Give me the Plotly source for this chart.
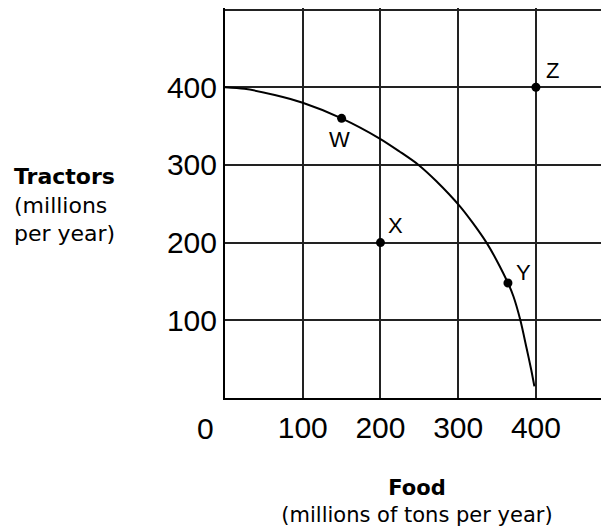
import plotly.graph_objects as go

# PPF curve (Food, Tractors)
curve_food = [0, 25, 64, 100, 150, 199, 225, 249, 272, 302, 319, 337, 349, 364, 371, 380, 388, 394, 398]
curve_tractors = [400, 398, 390, 380, 360, 334, 317, 300, 279, 247, 225, 199, 178, 148, 131, 100, 64, 36, 15]

# Labelled points
pt_names = ["W", "X", "Y", "Z"]
pt_food = [150, 200, 364, 400]
pt_tractors = [360, 200, 148, 400]

x_ticks = [100, 200, 300, 400]
x_ticktext = ["100", "200", "300", "400"]
y_ticks = [100, 200, 300, 400, 500]
y_ticktext = ["100", "200", "300", "400", ""]

NUM_FONT = "Liberation Sans, Arial, sans-serif"
TXT_FONT = "DejaVu Sans, Verdana, sans-serif"

fig = go.Figure()
fig.add_trace(go.Scatter(x=curve_food, y=curve_tractors, mode="lines",
                         line=dict(color="black", width=2, shape="spline", smoothing=0.8),
                         hoverinfo="skip"))
fig.add_trace(go.Scatter(x=pt_food, y=pt_tractors, mode="markers",
                         marker=dict(color="black", size=9), hoverinfo="skip"))

offsets = {"W": (-2, -21), "X": (15, 17), "Y": (16, 11), "Z": (17, 17)}
for n, xv, yv in zip(pt_names, pt_food, pt_tractors):
    dx, dy = offsets[n]
    fig.add_annotation(x=xv, y=yv, xref="x", yref="y", text=n, showarrow=False,
                       xshift=dx, yshift=dy,
                       font=dict(family=NUM_FONT, size=22, color="black"))

fig.add_annotation(x=0, y=0, xref="x", yref="y", text="0", showarrow=False,
                   xshift=-20, yshift=-30,
                   font=dict(family=NUM_FONT, size=30, color="black"))

# Y-axis title as a left-aligned text block
fig.add_annotation(xref="paper", yref="paper", x=-213/384, y=(390 - 154) / 390,
                   xanchor="left", yanchor="top", align="left", showarrow=False,
                   text="<b>Tractors</b><br>(millions<br>per year)",
                   font=dict(family=TXT_FONT, size=22, color="black"))

fig.update_layout(
    width=601, height=523,
    margin=dict(l=217, r=0, t=0, b=133),
    paper_bgcolor="white", plot_bgcolor="white",
    showlegend=False,
    xaxis=dict(range=[0, 494], tickvals=x_ticks, ticktext=x_ticktext,
               showgrid=True, gridcolor="#222222", gridwidth=2,
               showline=True, linecolor="black", linewidth=2, zeroline=False,
               ticks="", ticklabelstandoff=2,
               tickfont=dict(family=NUM_FONT, size=30, color="black"),
               title=dict(text="<b>Food</b><br>(millions of tons per year)",
                          font=dict(family=TXT_FONT, size=21, color="black"),
                          standoff=37)),
    yaxis=dict(range=[0, 502], tickvals=y_ticks, ticktext=y_ticktext,
               showgrid=True, gridcolor="#222222", gridwidth=2,
               showline=True, linecolor="black", linewidth=2, zeroline=False,
               ticks="", ticklabelstandoff=0,
               tickfont=dict(family=NUM_FONT, size=30, color="black")),
)

fig.write_html("out.html")
